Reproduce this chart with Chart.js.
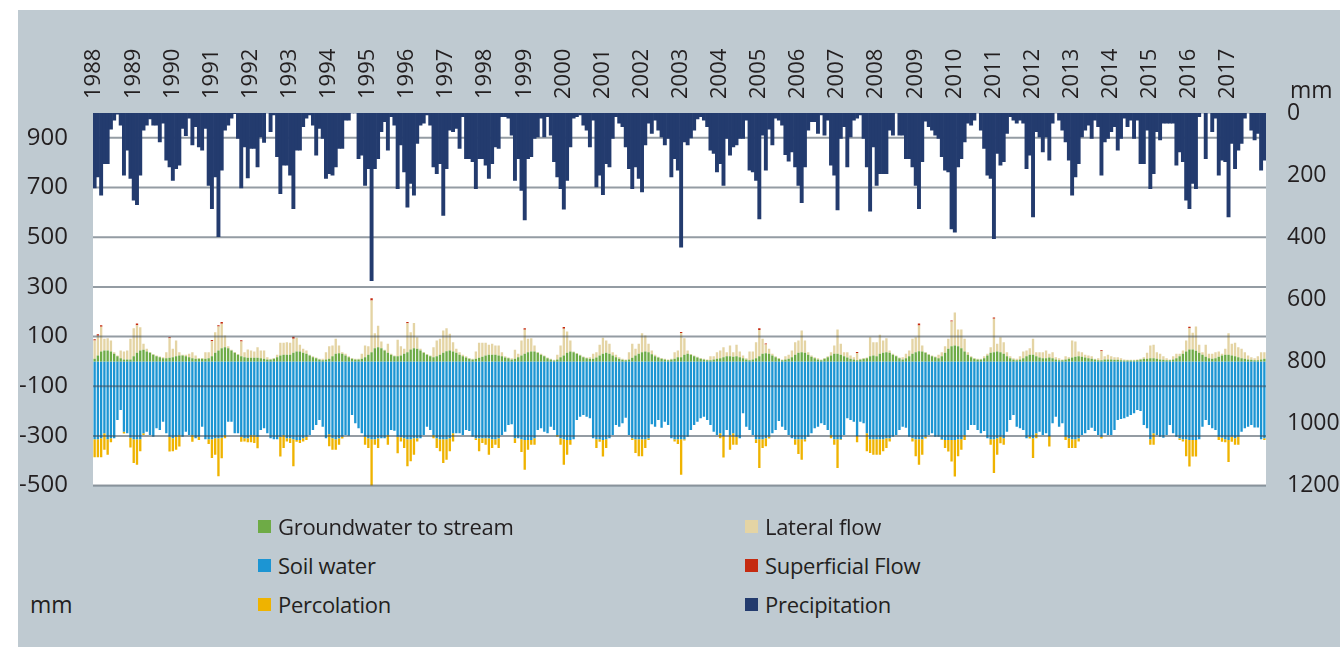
<!DOCTYPE html>
<html>
<head>
<meta charset="utf-8">
<title>Monthly water balance 1988–2017</title>
<script src="https://cdn.jsdelivr.net/npm/chart.js@4.4.1/dist/chart.umd.min.js"></script>
<style>
  html, body { margin: 0; padding: 0; background: #ffffff; }
  body { width: 1340px; height: 647px; position: relative; overflow: hidden;
         font-family: "Open Sans", sans-serif; color: #231f20; }
  #panel { position: absolute; left: 18px; top: 10px; width: 1322px; height: 637px; background: #bfcad1; }
  #wrap { position: absolute; left: 0; top: 0; width: 1340px; height: 517px; }
  .item { position: absolute; height: 26px; display: flex; align-items: center;
          font-size: 22px; letter-spacing: -0.3px; white-space: nowrap; }
  .item i { display: inline-block; width: 13px; height: 13px; margin-right: 7px; }
  .unit { position: absolute; font-size: 23px; line-height: 26px; }
</style>
</head>
<body>
<div id="panel"></div>
<div id="wrap"><canvas id="chart" width="1340" height="517"></canvas></div>

<div class="item" style="left:258px;top:513px"><i style="background:#6eab46"></i>Groundwater to stream</div>
<div class="item" style="left:258px;top:552px"><i style="background:#1c95d3"></i>Soil water</div>
<div class="item" style="left:258px;top:591px"><i style="background:#efb300"></i>Percolation</div>
<div class="item" style="left:745px;top:513px"><i style="background:#e4d4a4"></i>Lateral flow</div>
<div class="item" style="left:745px;top:552px"><i style="background:#c52a10"></i>Superficial Flow</div>
<div class="item" style="left:745px;top:591px"><i style="background:#233b6e"></i>Precipitation</div>
<div class="unit" style="left:30px;top:591px">mm</div>
<div class="unit" style="left:1290px;top:76px">mm</div>

<script>
// Years on the top axis; one bar per month.
const years = [1988, 1989, 1990, 1991, 1992, 1993, 1994, 1995, 1996, 1997,
               1998, 1999, 2000, 2001, 2002, 2003, 2004, 2005, 2006, 2007,
               2008, 2009, 2010, 2011, 2012, 2013, 2014, 2015, 2016, 2017];

// Tick values of both value axes.
const leftTicks = [-500, -300, -100, 100, 300, 500, 700, 900];
const rightTicks = [0, 200, 400, 600, 800, 1000, 1200];

// Monthly precipitation, mm (right axis, hanging from the top).
const precipitation = [
  241, 206, 265, 163, 163, 52, 23, 4, 39, 200, 120, 211,      // 1988
  281, 295, 200, 55, 39, 19, 39, 39, 93, 33, 152, 174,        // 1989
  217, 179, 168, 50, 73, 17, 103, 44, 109, 120, 50, 233,      // 1990
  308, 206, 398, 184, 55, 39, 17, 2, 82, 241, 109, 209,       // 1991
  114, 114, 174, 77, 95, 0, 60, 6, 141, 260, 168, 168,        // 1992
  200, 308, 120, 120, 44, 17, 6, 39, 136, 50, 82, 211,        // 1993
  195, 200, 174, 114, 114, 23, 23, 0, 0, 147, 136, 233,       // 1994
  179, 540, 179, 147, 60, 28, 120, 12, 39, 244, 103, 190,     // 1995
  303, 227, 265, 98, 39, 33, 6, 39, 174, 195, 163, 330,       // 1996
  179, 55, 60, 50, 114, 12, 147, 147, 157, 244, 147, 147,     // 1997
  168, 211, 163, 109, 114, 12, 12, 17, 71, 217, 147, 249,     // 1998
  344, 147, 141, 82, 77, 17, 77, 12, 71, 157, 206, 244,       // 1999
  310, 217, 109, 17, 12, 6, 39, 55, 109, 23, 238, 200,        // 2000
  263, 163, 174, 82, 12, 33, 44, 109, 179, 244, 174, 211,     // 2001
  254, 103, 33, 66, 23, 55, 77, 103, 82, 206, 147, 184,       // 2002
  432, 93, 103, 80, 55, 19, 12, 23, 44, 120, 130, 190,        // 2003
  163, 233, 82, 136, 109, 103, 82, 82, 23, 184, 190, 217,     // 2004
  341, 71, 184, 52, 103, 17, 23, 39, 134, 155, 125, 174,      // 2005
  233, 289, 174, 55, 28, 28, 66, 6, 71, 23, 168, 200,         // 2006
  312, 82, 44, 174, 77, 23, 17, 6, 82, 174, 316, 109,         // 2007
  233, 195, 195, 195, 55, 71, 0, 71, 71, 147, 147, 174,       // 2008
  233, 308, 157, 26, 44, 55, 71, 82, 141, 184, 190, 373,      // 2009
  384, 174, 147, 93, 33, 39, 23, 0, 55, 114, 200, 211,        // 2010
  405, 130, 168, 157, 66, 12, 23, 33, 23, 33, 179, 136,       // 2011
  335, 60, 77, 125, 77, 152, 33, 0, 23, 55, 93, 152,          // 2012
  265, 206, 163, 77, 55, 39, 82, 23, 44, 200, 93, 82,         // 2013
  60, 44, 120, 82, 17, 44, 23, 82, 23, 163, 163, 55,          // 2014
  244, 195, 60, 87, 33, 33, 33, 33, 168, 125, 157, 281,       // 2015
  308, 227, 244, 12, 0, 147, 0, 60, 17, 200, 152, 157,        // 2016
  335, 98, 179, 120, 98, 17, 0, 55, 87, 66, 184, 152          // 2017
];

// Groundwater to stream, mm.
const groundwater = [
  11, 24, 40, 44, 44, 40, 31, 21, 13, 8, 8, 8,
  21, 35, 44, 47, 40, 35, 27, 21, 17, 13, 13, 15,
  17, 21, 24, 24, 21, 17, 13, 11, 11, 11, 11, 13,
  21, 35, 44, 53, 57, 53, 44, 35, 27, 21, 17, 15,
  15, 15, 15, 13, 11, 8, 8, 11, 17, 24, 27, 27,
  27, 35, 40, 40, 35, 31, 24, 17, 13, 8, 5, 8,
  11, 21, 31, 33, 31, 24, 17, 11, 8, 8, 11, 17,
  27, 37, 53, 57, 53, 44, 35, 27, 21, 21, 24, 31,
  37, 48, 53, 51, 44, 35, 27, 21, 17, 21, 27, 35,
  41, 44, 40, 35, 27, 21, 16, 11, 8, 11, 15, 19,
  24, 27, 27, 27, 24, 21, 16, 13, 8, 11, 17, 24,
  31, 37, 40, 40, 35, 27, 21, 13, 8, 4, 8, 17,
  24, 35, 40, 37, 31, 24, 17, 13, 11, 11, 16, 24,
  31, 35, 31, 24, 17, 11, 7, 5, 8, 15, 24, 31,
  37, 40, 37, 29, 21, 16, 11, 8, 5, 8, 11, 17,
  17, 27, 31, 27, 21, 16, 11, 8, 5, 5, 8, 11,
  13, 17, 21, 21, 19, 21, 17, 13, 8, 5, 8, 13,
  21, 31, 33, 31, 24, 17, 11, 5, 8, 11, 17, 27,
  35, 37, 35, 27, 19, 13, 8, 5, 11, 17, 24, 31,
  31, 27, 21, 16, 11, 8, 5, 8, 11, 13, 21, 24,
  21, 31, 35, 37, 35, 27, 21, 13, 8, 13, 21, 31,
  37, 41, 40, 35, 27, 21, 17, 13, 21, 35, 51, 61,
  64, 61, 53, 40, 27, 17, 11, 8, 8, 13, 24, 35,
  37, 40, 37, 31, 21, 13, 8, 5, 8, 13, 21, 27,
  27, 21, 16, 13, 13, 16, 13, 8, 5, 5, 8, 11,
  16, 19, 21, 19, 16, 13, 11, 8, 5, 5, 8, 8,
  8, 7, 7, 5, 4, 4, 4, 4, 5, 8, 11, 11,
  13, 13, 11, 8, 7, 5, 5, 8, 13, 21, 31, 40,
  48, 48, 43, 35, 27, 19, 13, 11, 13, 19, 24, 27,
  27, 24, 21, 17, 13, 11, 8, 7, 5, 5, 8, 11
];

// Lateral flow, mm.
const lateralFlow = [
  73, 79, 99, 47, 49, 44, 6, 3, 31, 32, 36, 83,
  112, 111, 93, 24, 11, 3, 3, 3, 3, 4, 24, 78,
  34, 63, 13, 3, 6, 14, 24, 13, 3, 3, 26, 24,
  60, 82, 96, 99, 47, 8, 3, 3, 3, 59, 20, 33,
  29, 25, 42, 31, 33, 9, 3, 3, 10, 51, 48, 50,
  48, 56, 55, 27, 16, 13, 3, 4, 3, 3, 6, 29,
  50, 43, 60, 31, 6, 7, 4, 3, 3, 3, 20, 47,
  34, 208, 60, 87, 27, 3, 36, 4, 3, 66, 37, 20,
  117, 69, 102, 46, 7, 3, 3, 3, 40, 63, 64, 89,
  92, 67, 37, 16, 10, 6, 5, 3, 3, 29, 60, 56,
  51, 40, 44, 37, 40, 16, 5, 3, 5, 36, 14, 60,
  96, 54, 53, 24, 3, 4, 3, 3, 3, 3, 19, 47,
  107, 85, 44, 3, 3, 3, 3, 3, 6, 20, 21, 43,
  64, 49, 40, 13, 10, 6, 4, 3, 29, 56, 27, 40,
  76, 64, 34, 15, 6, 3, 3, 3, 3, 3, 26, 27,
  97, 66, 13, 3, 3, 3, 3, 3, 3, 16, 13, 26,
  31, 40, 16, 43, 18, 46, 23, 11, 5, 35, 32, 64,
  105, 60, 35, 20, 7, 4, 3, 3, 13, 16, 27, 50,
  49, 87, 49, 10, 5, 4, 5, 3, 3, 4, 13, 33,
  97, 44, 16, 21, 13, 9, 29, 3, 3, 3, 76, 53,
  56, 76, 49, 56, 9, 4, 3, 3, 9, 18, 23, 60,
  60, 104, 24, 3, 3, 3, 3, 14, 16, 26, 40, 100,
  133, 67, 75, 51, 10, 4, 3, 3, 3, 8, 7, 22,
  135, 31, 60, 46, 16, 8, 5, 6, 13, 27, 23, 26,
  64, 16, 21, 24, 31, 15, 24, 9, 8, 3, 13, 6,
  68, 61, 19, 18, 11, 11, 10, 3, 8, 36, 13, 19,
  13, 10, 10, 8, 4, 3, 3, 3, 3, 3, 6, 24,
  51, 54, 26, 23, 14, 8, 3, 13, 18, 10, 13, 44,
  85, 67, 98, 32, 10, 48, 18, 20, 24, 21, 7, 24,
  86, 47, 54, 40, 38, 26, 16, 10, 8, 16, 29, 26
];

// Superficial flow, mm.
const superficialFlow = [
  5, 6, 7, 0, 0, 0, 0, 0, 0, 0, 0, 0,
  0, 7, 0, 0, 0, 0, 0, 0, 0, 0, 0, 4,
  0, 0, 0, 0, 0, 0, 0, 0, 0, 0, 0, 0,
  5, 0, 6, 7, 0, 0, 0, 0, 0, 5, 0, 0,
  0, 0, 0, 0, 0, 0, 0, 0, 0, 0, 0, 0,
  0, 8, 0, 0, 0, 0, 0, 0, 0, 0, 0, 0,
  0, 0, 0, 0, 0, 0, 0, 0, 0, 0, 0, 0,
  0, 9, 0, 0, 0, 0, 0, 0, 0, 0, 0, 0,
  5, 0, 0, 0, 0, 0, 0, 0, 0, 0, 0, 0,
  0, 0, 0, 0, 0, 0, 0, 0, 0, 0, 0, 0,
  0, 0, 0, 0, 0, 0, 0, 0, 0, 0, 0, 0,
  6, 0, 0, 0, 0, 0, 0, 0, 0, 0, 0, 0,
  7, 0, 0, 0, 0, 0, 0, 0, 0, 0, 0, 0,
  0, 0, 0, 0, 0, 0, 0, 0, 0, 0, 0, 0,
  0, 0, 0, 0, 0, 0, 0, 0, 0, 0, 0, 0,
  4, 0, 0, 0, 0, 0, 0, 0, 0, 0, 0, 0,
  0, 0, 0, 0, 0, 0, 0, 0, 0, 0, 0, 0,
  7, 0, 4, 0, 0, 0, 0, 0, 0, 0, 0, 0,
  0, 0, 0, 0, 0, 0, 0, 0, 0, 0, 0, 0,
  0, 0, 0, 0, 0, 0, 4, 0, 0, 0, 0, 0,
  0, 0, 0, 0, 0, 0, 0, 0, 0, 0, 0, 0,
  0, 8, 0, 0, 0, 0, 0, 0, 0, 0, 0, 4,
  0, 0, 0, 0, 0, 0, 0, 0, 0, 0, 0, 0,
  5, 0, 0, 0, 0, 0, 0, 0, 0, 0, 0, 0,
  0, 0, 0, 0, 0, 0, 0, 0, 0, 0, 0, 0,
  0, 0, 0, 0, 0, 0, 0, 0, 0, 4, 0, 0,
  0, 0, 0, 0, 0, 0, 0, 0, 0, 0, 0, 0,
  0, 0, 0, 0, 0, 0, 0, 0, 0, 0, 0, 0,
  6, 0, 0, 0, 0, 0, 0, 0, 0, 0, 0, 0,
  0, 0, 0, 0, 0, 0, 0, 0, 0, 0, 0, 0
];

// Soil water, mm (drawn downwards).
const soilWater = [
  -313, -313, -309, -289, -313, -309, -309, -236, -196, -283, -289, -307,
  -313, -313, -313, -289, -283, -296, -303, -269, -276, -243, -289, -303,
  -309, -303, -296, -303, -283, -296, -296, -309, -303, -263, -313, -313,
  -313, -309, -309, -307, -296, -243, -243, -289, -289, -303, -309, -309,
  -296, -296, -303, -276, -269, -289, -309, -313, -313, -303, -296, -309,
  -309, -313, -316, -316, -309, -303, -296, -276, -256, -236, -263, -309,
  -293, -309, -313, -309, -303, -296, -299, -216, -249, -269, -289, -303,
  -309, -313, -313, -309, -309, -309, -296, -276, -279, -303, -305, -309,
  -313, -313, -309, -309, -309, -296, -263, -276, -296, -309, -313, -313,
  -313, -309, -289, -289, -289, -296, -276, -280, -303, -309, -309, -309,
  -309, -309, -313, -313, -309, -296, -283, -256, -253, -309, -309, -313,
  -316, -316, -316, -309, -276, -269, -283, -289, -263, -276, -296, -309,
  -313, -316, -316, -313, -236, -223, -216, -223, -229, -309, -313, -313,
  -316, -313, -309, -296, -256, -263, -249, -227, -296, -309, -313, -313,
  -313, -313, -309, -253, -263, -236, -267, -243, -256, -309, -313, -313,
  -313, -313, -303, -276, -256, -243, -229, -223, -236, -256, -283, -296,
  -289, -300, -276, -296, -289, -303, -309, -209, -263, -276, -296, -313,
  -313, -313, -309, -303, -289, -276, -240, -263, -276, -296, -309, -313,
  -313, -313, -313, -303, -289, -269, -263, -249, -256, -276, -296, -313,
  -313, -313, -296, -229, -236, -243, -300, -243, -249, -289, -313, -313,
  -313, -313, -313, -309, -309, -303, -296, -276, -263, -267, -303, -309,
  -313, -313, -313, -303, -296, -289, -303, -303, -313, -316, -316, -316,
  -316, -313, -313, -296, -276, -256, -256, -276, -289, -280, -309, -313,
  -313, -309, -303, -309, -283, -236, -216, -263, -269, -276, -309, -303,
  -309, -289, -283, -296, -289, -300, -249, -223, -263, -249, -303, -309,
  -313, -313, -309, -296, -289, -276, -267, -280, -296, -303, -289, -296,
  -296, -276, -236, -232, -229, -223, -216, -209, -196, -200, -256, -269,
  -313, -289, -296, -303, -307, -296, -256, -289, -303, -309, -313, -313,
  -316, -316, -316, -313, -263, -236, -256, -269, -276, -303, -307, -313,
  -316, -303, -309, -303, -283, -269, -263, -256, -266, -266, -313, -309
];

// Percolation, mm (stacked below soil water).
const percolation = [
  -73, -73, -77, -67, -63, -16, 0, 0, 0, -7, 0, -40,
  -96, -103, -49, -7, 0, 0, 0, 0, 0, 0, 0, -60,
  -53, -53, -47, 0, 0, 0, -27, 0, -13, 0, 0, -20,
  -76, -67, -153, -83, -13, 0, 0, 0, 0, -20, -13, -16,
  -29, -33, -47, 0, 0, 0, 0, 0, 0, -80, -53, -13,
  -20, -109, -7, -13, -13, -13, 0, 0, 0, 0, 0, 0,
  -49, -47, -43, -27, -7, 0, 0, 0, 0, 0, 0, -33,
  -40, -209, -23, -40, 0, 0, -40, 0, 0, -67, -17, -40,
  -109, -89, -67, -13, 0, 0, 0, 0, -13, -40, -49, -96,
  -83, -53, -33, 0, 0, 0, 0, 0, 0, -7, -53, -20,
  -27, -67, -36, -23, -40, 0, 0, 0, 0, -20, 0, -52,
  -120, -40, -20, -27, 0, 0, 0, 0, 0, 0, -7, -27,
  -103, -60, -20, 0, 0, 0, 0, 0, 0, 0, -36, -10,
  -67, -36, 0, 0, 0, 0, 0, 0, 0, -7, -56, -69,
  -69, -36, -7, 0, 0, 0, 0, 0, 0, 0, -9, -20,
  -143, -5, 0, 0, 0, 0, 0, 0, 0, 0, 0, 0,
  -20, -87, 0, -60, -47, -33, 0, 0, 0, 0, 0, -16,
  -116, -36, -33, -7, 0, 0, 0, 0, 0, 0, 0, -23,
  -60, -83, -9, 0, 0, 0, 0, 0, 0, 0, -13, -23,
  -116, -3, 0, 0, 0, 0, -25, 0, 0, -73, -56, -63,
  -63, -63, -49, -40, -13, 0, 0, 0, 0, 0, 0, -13,
  -69, -103, -63, -7, 0, 0, 0, 0, -3, -33, -47, -87,
  -147, -69, -43, -20, 0, 0, 0, 0, 0, 0, 0, -23,
  -136, -67, -27, -27, 0, 0, 0, 0, 0, 0, 0, -7,
  -80, -20, 0, 0, 0, -43, 0, 0, 0, 0, -13, -40,
  -36, -36, -13, 0, 0, 0, 0, 0, 0, -7, 0, 0,
  0, 0, 0, 0, 0, 0, 0, 0, 0, 0, 0, 0,
  -23, -47, 0, 0, 0, 0, 0, 0, 0, -7, -9, -69,
  -107, -67, -67, 0, 0, 0, 0, 0, 0, -13, -16, -12,
  -89, -20, -27, -33, 0, 0, 0, 0, 0, 0, 0, -7
];

// One category per month: "1988-01" ... "2017-12".
const months = [];
years.forEach(y => {
  for (let m = 1; m <= 12; m++) months.push(y + '-' + String(m).padStart(2, '0'));
});

const FONT = '"Open Sans", sans-serif';
const TEXT = '#231f20';

// White plotting area on the grey panel.
const plotBackground = {
  id: 'plotBackground',
  beforeDraw(chart) {
    const { ctx, chartArea: a } = chart;
    ctx.save();
    ctx.fillStyle = '#ffffff';
    ctx.fillRect(a.left, a.top, a.right - a.left, a.bottom - a.top);
    ctx.restore();
  }
};

// Horizontal grid: over the flow bars, under the precipitation bars.
const gridLines = {
  id: 'gridLines',
  beforeDatasetDraw(chart, args) {
    if (args.meta.yAxisID !== 'y2') return;
    const { ctx, chartArea: a, scales } = chart;
    ctx.save();
    ctx.strokeStyle = 'rgba(60, 75, 88, 0.55)';
    ctx.lineWidth = 2;
    leftTicks.forEach(v => {
      const y = scales.y.getPixelForValue(v);
      ctx.beginPath();
      ctx.moveTo(a.left, y);
      ctx.lineTo(a.right, y);
      ctx.stroke();
    });
    ctx.restore();
  }
};

const flowBar = { yAxisID: 'y', stack: 'flow', grouped: false, order: 1,
                  barPercentage: 0.72, categoryPercentage: 1, borderWidth: 0 };

new Chart(document.getElementById('chart'), {
  type: 'bar',
  data: {
    labels: months,
    datasets: [
      { ...flowBar, label: 'Groundwater to stream', data: groundwater, backgroundColor: '#6eab46' },
      { ...flowBar, label: 'Soil water', data: soilWater, backgroundColor: '#1c95d3' },
      { ...flowBar, label: 'Percolation', data: percolation, backgroundColor: '#efb300' },
      { ...flowBar, label: 'Lateral flow', data: lateralFlow, backgroundColor: '#e4d4a4' },
      { ...flowBar, label: 'Superficial Flow', data: superficialFlow, backgroundColor: '#c52a10' },
      { label: 'Precipitation', data: precipitation, backgroundColor: '#233b6e',
        yAxisID: 'y2', stack: 'rain', grouped: false, order: 0,
        barPercentage: 1, categoryPercentage: 1, borderWidth: 0 }
    ]
  },
  options: {
    responsive: false,
    animation: false,
    layout: { padding: { top: 0, right: 0, bottom: 15, left: 0 } },
    plugins: { legend: { display: false }, tooltip: { enabled: false } },
    scales: {
      x: {
        position: 'top',
        stacked: true,
        grid: { display: false },
        border: { display: false },
        ticks: {
          autoSkip: false, minRotation: 90, maxRotation: 90, padding: 6, labelOffset: 26,
          color: TEXT, font: { family: FONT, size: 22 },
          callback: (v, i) => (i % 12 === 0 ? String(years[i / 12]) : '')
        },
        afterFit: s => { s.height = 113; }
      },
      y: {
        position: 'left',
        stacked: true,
        min: -500, max: 1000,
        grid: { display: false },
        border: { display: false },
        ticks: { padding: 17, color: TEXT, font: { family: FONT, size: 24 },
                 callback: v => String(v) },
        afterBuildTicks: s => { s.ticks = leftTicks.map(v => ({ value: v })); },
        afterFit: s => { s.width = 93; }
      },
      y2: {
        position: 'right',
        min: 0, max: 1200,
        reverse: true,
        grid: { display: false },
        border: { display: false },
        ticks: { padding: 13, color: TEXT, font: { family: FONT, size: 23 },
                 callback: v => String(v) },
        afterBuildTicks: s => { s.ticks = rightTicks.map(v => ({ value: v })); },
        afterFit: s => { s.width = 74; }
      }
    }
  },
  plugins: [plotBackground, gridLines]
});
</script>
</body>
</html>
